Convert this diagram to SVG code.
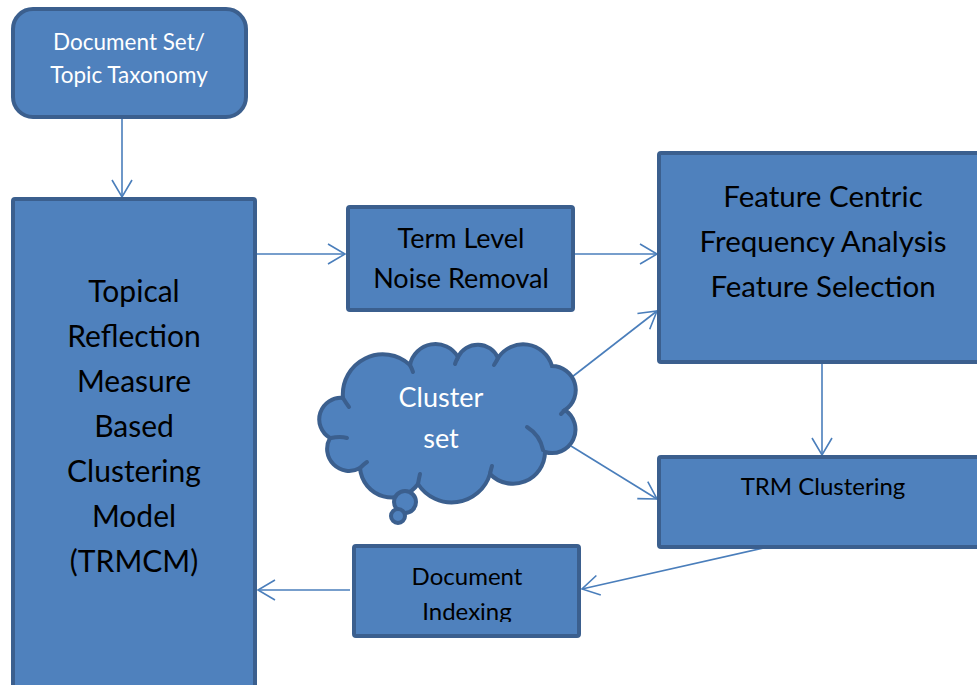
<svg xmlns="http://www.w3.org/2000/svg" width="977" height="685" viewBox="0 0 977 685">
<style>
.box{fill:#4f81bd;stroke:#3b5f8e;stroke-width:4}
.t{font-family:Lato,"Liberation Sans",sans-serif;fill:#000;text-anchor:middle}
.w{fill:#fff}
.c{fill:none;stroke:#4a7ebb;stroke-width:1.6}
.h{fill:none;stroke:#3b5f8e;stroke-width:4;stroke-linecap:round}
</style>
<defs>
<marker id="arr" markerUnits="userSpaceOnUse" markerWidth="22" markerHeight="24" refX="18" refY="11" orient="auto" overflow="visible">
<path d="M1,1 L18,11 L1,21" fill="none" stroke="#4a7ebb" stroke-width="1.6"/>
</marker>
<clipPath id="clipDI"><rect x="354" y="546" width="225" height="76"/></clipPath>
</defs>
<rect width="977" height="685" fill="#fff"/>

<g id="connectors">
<line class="c" x1="122" y1="119" x2="122" y2="197" marker-end="url(#arr)"/>
<line class="c" x1="257" y1="254" x2="345" y2="254" marker-end="url(#arr)"/>
<line class="c" x1="575" y1="254" x2="657" y2="254" marker-end="url(#arr)"/>
<line class="c" x1="572" y1="377" x2="657" y2="311" marker-end="url(#arr)"/>
<line class="c" x1="571" y1="446" x2="657" y2="499" marker-end="url(#arr)"/>
<line class="c" x1="822" y1="364" x2="822" y2="455" marker-end="url(#arr)"/>
<line class="c" x1="772" y1="546" x2="582" y2="589" marker-end="url(#arr)"/>
<line class="c" x1="350" y1="590" x2="258" y2="590" marker-end="url(#arr)"/>
</g>

<g id="docset">
<rect class="box" x="13" y="9" width="233" height="108" rx="20"/>
<text class="t w" x="129" y="50" font-size="22.5">Document Set/</text>
<text class="t w" x="129" y="83" font-size="22.5">Topic Taxonomy</text>
</g>

<g id="trmcm">
<rect class="box" x="13" y="199" width="242" height="500" rx="2"/>
<text class="t" x="134" y="302" font-size="30">Topical</text>
<text class="t" x="134" y="347" font-size="30">Reflection</text>
<text class="t" x="134" y="392" font-size="30">Measure</text>
<text class="t" x="134" y="437" font-size="30">Based</text>
<text class="t" x="134" y="482" font-size="30">Clustering</text>
<text class="t" x="134" y="527" font-size="30">Model</text>
<text class="t" x="134" y="572" font-size="30">(TRMCM)</text>
</g>

<g id="noise">
<rect class="box" x="348" y="207" width="225" height="103" rx="2"/>
<text class="t" x="461" y="248" font-size="27">Term Level</text>
<text class="t" x="461" y="288" font-size="27">Noise Removal</text>
</g>

<g id="feature">
<rect class="box" x="659" y="153" width="330" height="209" rx="2"/>
<text class="t" x="823" y="207" font-size="29.5">Feature Centric</text>
<text class="t" x="823" y="252" font-size="29.5">Frequency Analysis</text>
<text class="t" x="823" y="297" font-size="29.5">Feature Selection</text>
</g>

<g id="cloud">
<path class="box" d="M343,398 A40,40 0 0 1 410,365 A26,26 0 0 1 458,357 A22,22 0 0 1 498,358 A30,30 0 0 1 552,366 A24,24 0 0 1 565,410 A23.5,23.5 0 0 1 545,452 A32,32 0 0 1 490,474 A40,40 0 0 1 418,484 A32,32 0 0 1 360,468 A22,22 0 0 1 330,438 A21.5,21.5 0 0 1 343,398 Z"/>
<path class="h" d="M343,398 Q346,403 349,407"/>
<path class="h" d="M410,365 Q412,369 413,372"/>
<path class="h" d="M458,357 Q456,361 455,364"/>
<path class="h" d="M498,358 Q496,362 494,365"/>
<path class="h" d="M565,410 Q563,412 561,414"/>
<path class="h" d="M527,427 Q540,435 543,450"/>
<path class="h" d="M490,474 Q491,469 492,466"/>
<path class="h" d="M418,484 Q419,478 420,474"/>
<path class="h" d="M360,468 Q364,464 367,462"/>
<path class="h" d="M331,438 Q340,436 347,438"/>
<circle class="box" cx="405" cy="502" r="11"/>
<circle class="box" cx="398" cy="516" r="7"/>
<text class="t w" x="441" y="407" font-size="27">Cluster</text>
<text class="t w" x="441" y="448" font-size="27">set</text>
</g>

<g id="trmclust">
<rect class="box" x="659" y="457" width="330" height="90" rx="2"/>
<text class="t" x="823" y="495" font-size="24">TRM Clustering</text>
</g>

<g id="docindex">
<rect class="box" x="354" y="546" width="225" height="90" rx="2"/>
<g clip-path="url(#clipDI)">
<text class="t" x="467" y="585" font-size="24">Document</text>
<text class="t" x="467" y="620" font-size="24">Indexing</text>
</g>
</g>
</svg>
